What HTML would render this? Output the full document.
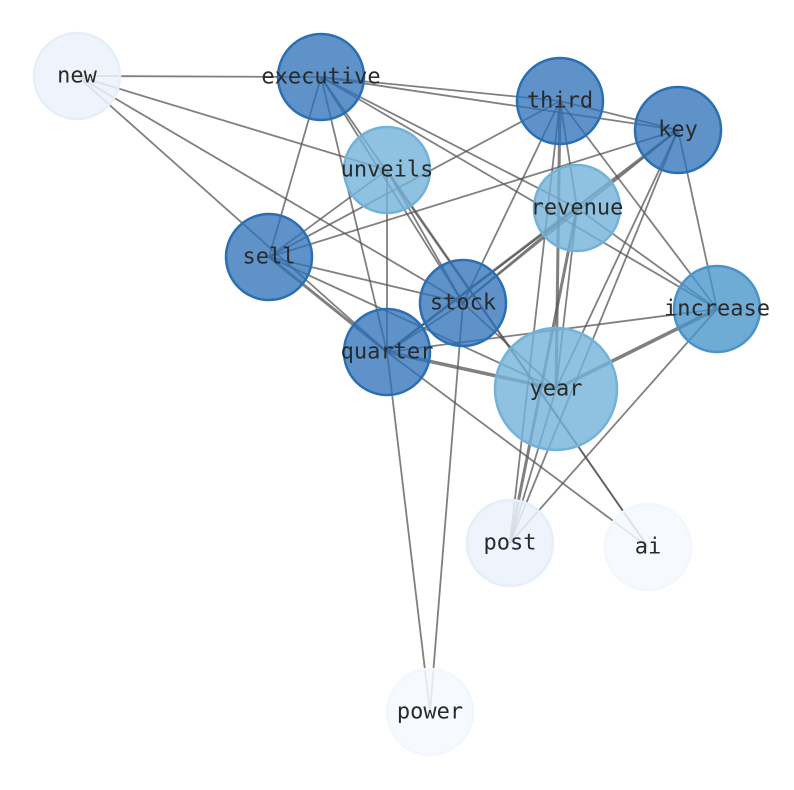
<!DOCTYPE html>
<html><head><meta charset="utf-8"><style>body{margin:0;background:#fff}svg{display:block}</style></head><body>
<svg width="794" height="790" viewBox="0 0 794 790" xmlns="http://www.w3.org/2000/svg">
<g stroke="#555" stroke-opacity="0.75" stroke-width="1.8" fill="none">
<line x1="77" y1="76" x2="321" y2="77"/>
<line x1="77" y1="76" x2="387" y2="170"/>
<line x1="77" y1="76" x2="463" y2="303"/>
<line x1="77" y1="76" x2="387" y2="352"/>
<line x1="321" y1="77" x2="560" y2="101"/>
<line x1="321" y1="77" x2="678" y2="130"/>
<line x1="321" y1="77" x2="269" y2="257"/>
<line x1="321" y1="77" x2="387" y2="352"/>
<line x1="321" y1="77" x2="463" y2="303"/>
<line x1="321" y1="77" x2="648" y2="547"/>
<line x1="321" y1="77" x2="717" y2="309"/>
<line x1="321" y1="77" x2="577" y2="208"/>
<line x1="560" y1="101" x2="678" y2="130"/>
<line x1="560" y1="101" x2="269" y2="257"/>
<line x1="560" y1="101" x2="463" y2="303"/>
<line x1="560" y1="101" x2="556" y2="389" stroke-width="3"/>
<line x1="560" y1="101" x2="510" y2="543"/>
<line x1="560" y1="101" x2="717" y2="309"/>
<line x1="560" y1="101" x2="577" y2="208"/>
<line x1="678" y1="130" x2="269" y2="257"/>
<line x1="678" y1="130" x2="387" y2="352" stroke-width="2.6"/>
<line x1="678" y1="130" x2="556" y2="389"/>
<line x1="678" y1="130" x2="717" y2="309"/>
<line x1="678" y1="130" x2="463" y2="303"/>
<line x1="387" y1="170" x2="269" y2="257"/>
<line x1="387" y1="170" x2="387" y2="352"/>
<line x1="387" y1="170" x2="648" y2="547"/>
<line x1="387" y1="170" x2="463" y2="303"/>
<line x1="577" y1="208" x2="463" y2="303"/>
<line x1="577" y1="208" x2="387" y2="352"/>
<line x1="577" y1="208" x2="717" y2="309"/>
<line x1="577" y1="208" x2="510" y2="543" stroke-width="3"/>
<line x1="577" y1="208" x2="556" y2="389"/>
<line x1="269" y1="257" x2="463" y2="303"/>
<line x1="269" y1="257" x2="387" y2="352" stroke-width="3"/>
<line x1="269" y1="257" x2="556" y2="389"/>
<line x1="463" y1="303" x2="430" y2="712"/>
<line x1="463" y1="303" x2="387" y2="352"/>
<line x1="463" y1="303" x2="556" y2="389"/>
<line x1="387" y1="352" x2="556" y2="389" stroke-width="3.5"/>
<line x1="387" y1="352" x2="717" y2="309"/>
<line x1="387" y1="352" x2="430" y2="712"/>
<line x1="387" y1="352" x2="648" y2="547"/>
<line x1="556" y1="389" x2="717" y2="309" stroke-width="3.5"/>
<line x1="556" y1="389" x2="510" y2="543"/>
<line x1="717" y1="309" x2="510" y2="543"/>
<line x1="678" y1="130" x2="510" y2="543"/>
</g>
<g stroke-width="2.5">
<circle cx="77" cy="76" r="43" fill="#ecf2fb" fill-opacity="0.85" stroke="#e6eef9"/>
<circle cx="321" cy="77" r="43" fill="#2b70b7" fill-opacity="0.76" stroke="#2a6fb4"/>
<circle cx="560" cy="101" r="43" fill="#2b70b7" fill-opacity="0.76" stroke="#2a6fb4"/>
<circle cx="678" cy="130" r="43" fill="#2b70b7" fill-opacity="0.76" stroke="#2a6fb4"/>
<circle cx="387" cy="170" r="43" fill="#73b2d8" fill-opacity="0.8" stroke="#73b2d8"/>
<circle cx="577" cy="208" r="43" fill="#73b2d8" fill-opacity="0.8" stroke="#73b2d8"/>
<circle cx="269" cy="257" r="43" fill="#2b70b7" fill-opacity="0.76" stroke="#2a6fb4"/>
<circle cx="463" cy="303" r="43" fill="#2b70b7" fill-opacity="0.76" stroke="#2a6fb4"/>
<circle cx="717" cy="309" r="43" fill="#4593c9" fill-opacity="0.78" stroke="#4a93c8"/>
<circle cx="387" cy="352" r="43" fill="#2b70b7" fill-opacity="0.76" stroke="#2a6fb4"/>
<circle cx="556" cy="389" r="61" fill="#73b2d8" fill-opacity="0.8" stroke="#73b2d8"/>
<circle cx="510" cy="543" r="43" fill="#ecf2fb" fill-opacity="0.85" stroke="#e6eef9"/>
<circle cx="648" cy="547" r="43" fill="#f5f9fe" fill-opacity="0.85" stroke="#f2f7fd"/>
<circle cx="430" cy="712" r="43" fill="#f5f9fe" fill-opacity="0.85" stroke="#f2f7fd"/>
</g>
<g font-family="'DejaVu Sans Mono','Liberation Mono',monospace" font-size="22" fill="#2a2a2a" text-anchor="middle" dominant-baseline="central">
<text x="77" y="76">new</text>
<text x="321" y="77">executive</text>
<text x="560" y="101">third</text>
<text x="678" y="130">key</text>
<text x="387" y="170">unveils</text>
<text x="577" y="208">revenue</text>
<text x="269" y="257">sell</text>
<text x="463" y="303">stock</text>
<text x="717" y="309">increase</text>
<text x="387" y="352">quarter</text>
<text x="556" y="389">year</text>
<text x="510" y="543">post</text>
<text x="648" y="547">ai</text>
<text x="430" y="712">power</text>
</g>
</svg>
</body></html>
